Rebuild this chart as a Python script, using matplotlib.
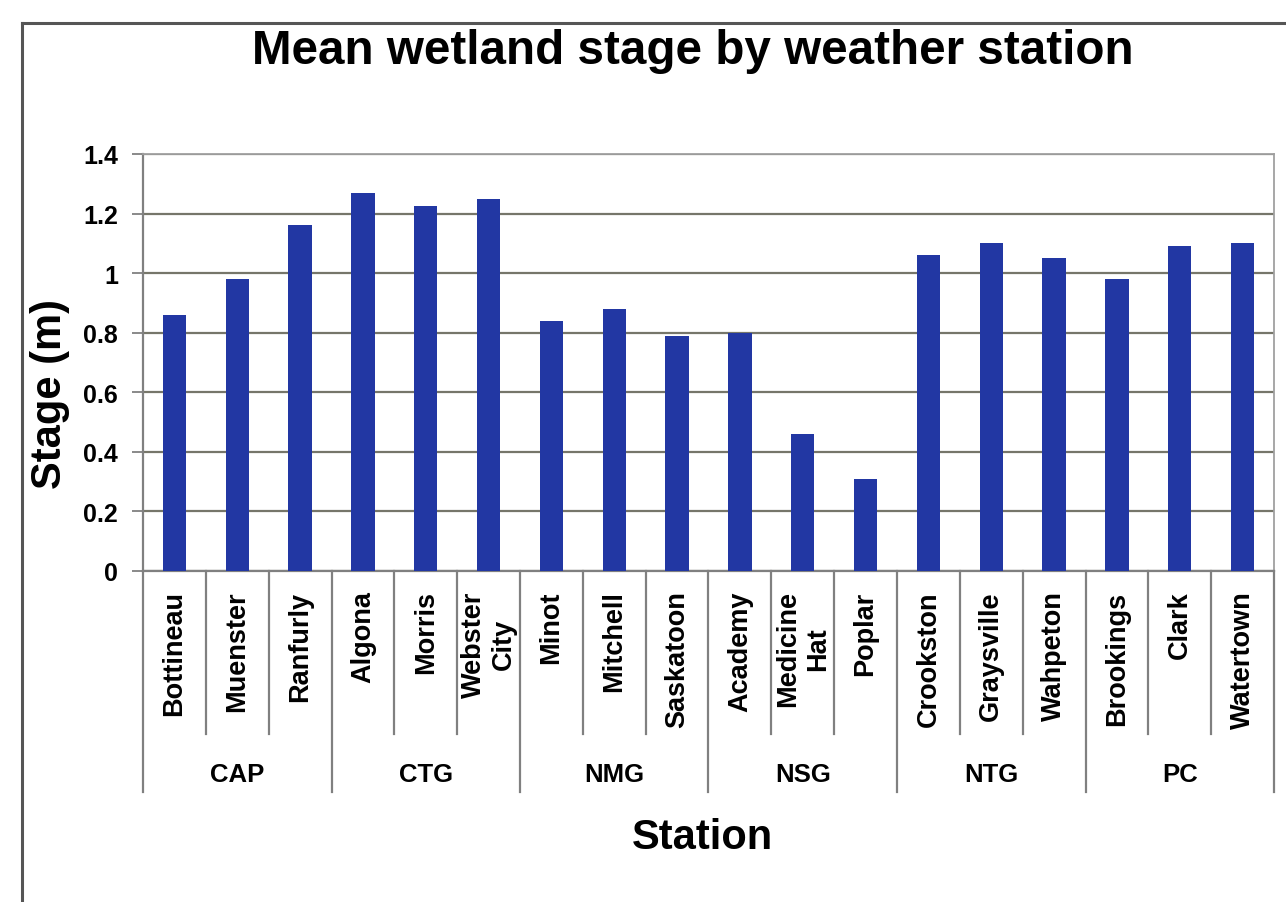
import numpy as np
import matplotlib
matplotlib.use('Agg')
import matplotlib.pyplot as plt
from matplotlib.lines import Line2D
import matplotlib.transforms as mtransforms

plt.rcParams['font.family'] = ['Liberation Sans', 'DejaVu Sans']
plt.rcParams['font.weight'] = 'bold'

# dados
estacoes = ['Bottineau', 'Muenster', 'Ranfurly',
            'Algona', 'Morris', 'Webster\nCity',
            'Minot', 'Mitchell', 'Saskatoon',
            'Academy', 'Medicine\nHat', 'Poplar',
            'Crookston', 'Graysville', 'Wahpeton',
            'Brookings', 'Clark', 'Watertown']
grupos = ['CAP', 'CTG', 'NMG', 'NSG', 'NTG', 'PC']
tam_grupo = [3, 3, 3, 3, 3, 3]
estagio = [0.86, 0.98, 1.16,
           1.27, 1.225, 1.25,
           0.84, 0.88, 0.79,
           0.80, 0.46, 0.31,
           1.06, 1.10, 1.05,
           0.98, 1.09, 1.10]
yticks = [0, 0.2, 0.4, 0.6, 0.8, 1, 1.2, 1.4]
ytick_labels = ['0', '0.2', '0.4', '0.6', '0.8', '1', '1.2', '1.4']

W, H = 1286, 903
fig = plt.figure(figsize=(W / 100, H / 100), dpi=100)
fig.patch.set_facecolor('white')

# area do grafico
x0, x1, y0, y1 = 143, 1274, 572, 155
ax = fig.add_axes([x0 / W, 1 - y0 / H, (x1 - x0) / W, (y0 - y1) / H])

x = np.arange(len(estacoes))
ax.bar(x, estagio, width=0.37, color='#2237a3', zorder=3)

ax.set_xlim(-0.5, len(estacoes) - 0.5)
ax.set_ylim(0, 1.4)
ax.set_yticks(yticks, ytick_labels, fontsize=18, fontweight='bold')
ax.yaxis.grid(True, color='#76766a', lw=1.6, zorder=0)
ax.tick_params(axis='y', direction='out', length=8, width=1.3,
               color='#808080', pad=10)

ax.set_xticks(x, estacoes, rotation=90, fontsize=19.5, fontweight='bold')
ax.tick_params(axis='x', length=0, pad=14)
for t in ax.get_xticklabels():
    t.set_multialignment('center')

for s in ['top', 'right']:
    ax.spines[s].set_color('#a0a0a0')
    ax.spines[s].set_linewidth(1.3)
for s in ['left', 'bottom']:
    ax.spines[s].set_color('#808080')
    ax.spines[s].set_linewidth(1.6)

# separadores das categorias (eixo de dois niveis)
trans = mtransforms.blended_transform_factory(ax.transData, ax.transAxes)
h_ax = y0 - y1
fim_interno = -(735 - y0) / h_ax
fim_grupo = -(793 - y0) / h_ax
limites = np.cumsum([0] + tam_grupo)
for k in range(len(estacoes) + 1):
    fim = fim_grupo if k in limites else fim_interno
    ax.add_line(Line2D([k - 0.5, k - 0.5], [0, fim], transform=trans,
                       color='#808080', lw=1.6, clip_on=False))

y_grupo = -(775 - y0) / h_ax
for i, g in enumerate(grupos):
    centro = (limites[i] + limites[i + 1] - 1) / 2
    ax.text(centro, y_grupo, g, transform=trans, ha='center', va='center',
            fontsize=18.5, fontweight='bold')

# titulos
fig.text(693 / W, 1 - 51 / H, 'Mean wetland stage by weather station',
         ha='center', va='center', fontsize=34.3, fontweight='bold')
fig.text(50 / W, 1 - 394 / H, 'Stage (m)', rotation=90,
         ha='center', va='center', fontsize=30, fontweight='bold')
fig.text(702 / W, 1 - 838 / H, 'Station',
         ha='center', va='center', fontsize=30, fontweight='bold')

# borda externa do grafico
fig.add_artist(Line2D([22 / W, 22 / W], [1 - 24 / H, 0], color='#555555', lw=2.2))
fig.add_artist(Line2D([22 / W, 1], [1 - 24 / H, 1 - 24 / H], color='#555555', lw=2.2))

fig.savefig('out.png', dpi=100)
